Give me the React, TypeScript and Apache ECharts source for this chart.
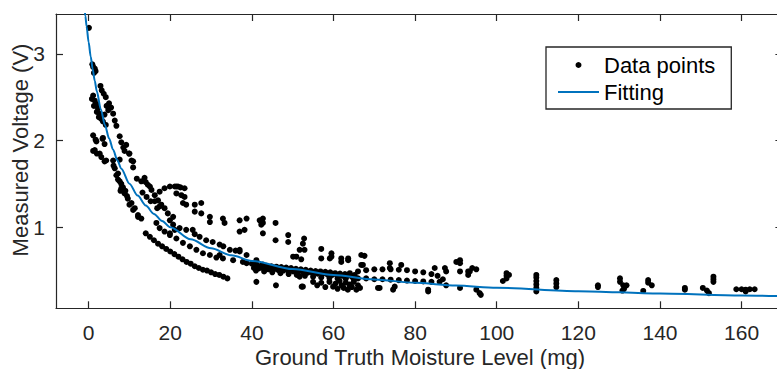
import React, { useEffect, useRef } from "react";
import * as echarts from "echarts";

// ---- Tick labels ----
const xTicks = [0, 20, 40, 60, 80, 100, 120, 140, 160];
const yTicks = [1, 2, 3];

// ---- Fitting curve ----
const fitX = [-1, -0.8, -0.5, 0, 0.5, 1, 1.5, 2, 3, 4, 5, 6, 7, 8, 10, 12, 14, 16, 18, 20, 25, 30, 35, 40, 50, 60, 70, 80, 90, 100, 120, 140, 160, 170];
const fitY = [3.522, 3.437, 3.316, 3.133, 2.969, 2.822, 2.689, 2.568, 2.357, 2.178, 2.026, 1.893, 1.777, 1.675, 1.503, 1.365, 1.25, 1.154, 1.072, 1.001, 0.861, 0.757, 0.676, 0.612, 0.517, 0.449, 0.398, 0.359, 0.328, 0.302, 0.263, 0.235, 0.213, 0.204];

// ---- Data points ----
const topCluster = [[0.07, 3.3], [0.9, 2.88], [1.1, 2.85], [1.5, 2.83], [1.7, 2.8], [1.3, 2.78]];
const upperStart = [[2.9, 2.63], [3.2, 2.58], [1.1, 2.52], [1.5, 2.46], [1.9, 2.42], [3.7, 2.54], [4.2, 2.5], [5.0, 2.43], [2.3, 2.37], [2.7, 2.31], [3.1, 2.25], [6.0, 2.31], [6.4, 2.23], [6.8, 2.17], [0.8, 2.48], [1.3, 2.4], [2.0, 2.33], [2.5, 2.27], [3.5, 2.22], [4.4, 2.4], [4.8, 2.35], [5.5, 2.38], [3.9, 2.3], [4.2, 2.18]];
const lowerStart = [[1.1, 2.06], [1.7, 2.01], [1.9, 1.99], [3.4, 2.02], [3.9, 1.96], [3.5, 2.03], [7.6, 2.05], [8.0, 1.98], [1.1, 1.88], [1.5, 1.89], [2.0, 1.85], [2.7, 1.85], [3.1, 1.81], [3.9, 1.76], [4.3, 1.77], [6.0, 1.77], [6.1, 1.71], [6.4, 1.68], [7.6, 1.78], [9.9, 1.85], [10.0, 1.85], [10.5, 1.77], [10.9, 1.76], [10.9, 1.69], [8.5, 1.92], [9.2, 1.95], [8.8, 1.88]];
const midBand = [[6.8, 1.6], [7.2, 1.55], [7.6, 1.53], [8.0, 1.5], [8.0, 1.45], [8.4, 1.46], [8.8, 1.39], [9.6, 1.33], [10.5, 1.28], [11.3, 1.22], [12.1, 1.14], [12.9, 1.1], [11.8, 1.56], [10.0, 1.26], [10.9, 1.2], [12.1, 1.12], [9.0, 1.42], [9.4, 1.36], [7.2, 1.62], [7.8, 1.42]];
const secondBand = [[12.9, 1.53], [13.7, 1.57], [14.5, 1.49], [15.4, 1.43], [16.2, 1.37], [17.0, 1.31], [17.8, 1.26], [18.6, 1.22], [19.4, 1.16], [20.7, 1.12], [18.6, 1.45], [19.9, 1.47], [21.5, 1.47], [17.4, 1.41], [16.2, 1.3], [17.4, 1.24], [14.0, 1.52], [15.0, 1.47], [13.2, 1.4], [14.2, 1.35], [15.2, 1.3], [16.8, 1.22]];
const upperScatter = [[21.1, 1.47], [21.9, 1.47], [22.5, 1.46], [23.5, 1.45], [21.5, 1.39], [22.7, 1.37], [23.5, 1.35], [23.1, 1.28], [23.9, 1.26], [26.0, 1.26], [27.6, 1.28], [26.0, 1.18], [27.6, 1.16], [29.7, 1.12], [29.7, 1.06], [32.9, 1.1], [33.3, 1.05], [37.0, 1.08], [38.7, 1.1], [37.0, 0.95], [38.2, 0.97], [41.9, 1.08], [42.3, 1.03], [42.7, 1.1], [42.7, 1.05], [45.8, 1.05], [42.7, 0.93], [45.8, 0.85], [48.9, 0.91], [48.9, 0.83], [52.8, 0.87], [52.5, 0.81], [50.1, 0.66], [50.9, 0.66], [51.7, 0.74], [52.9, 0.74], [52.1, 0.63], [57.0, 0.75], [57.0, 0.64], [59.1, 0.64], [59.5, 0.7], [59.5, 0.66], [61.9, 0.6], [61.9, 0.64], [63.6, 0.62], [63.6, 0.64], [66.8, 0.68], [67.6, 0.67], [66.8, 0.565], [67.2, 0.565], [73.8, 0.585], [73.8, 0.53], [76.6, 0.565], [84.8, 0.53], [87.3, 0.53], [87.6, 0.49], [90.1, 0.6], [91.0, 0.62], [91.0, 0.585], [91.0, 0.49], [93.0, 0.49], [93.0, 0.45], [95.0, 0.515], [93.4, 0.49], [94.0, 0.53]];
const nearFitBand = [[16.6, 1.05], [17.4, 0.99], [18.6, 0.95], [19.9, 0.93], [21.1, 0.97], [19.9, 1.08], [20.7, 1.03], [22.3, 0.99], [23.9, 0.97], [25.5, 0.97], [26.0, 0.92], [27.2, 0.89], [28.8, 0.85], [30.4, 0.83], [32.1, 0.8], [33.0, 0.78], [34.6, 0.74], [36.0, 0.73], [37.0, 0.72], [38.7, 0.68], [41.1, 0.62], [42.7, 0.57], [32.1, 0.68], [37.0, 0.74], [38.7, 0.585]];
const belowFitBand = [[19.9, 0.91], [21.5, 0.87], [23.1, 0.82], [24.8, 0.78], [26.4, 0.74], [28.0, 0.7], [29.7, 0.68], [31.3, 0.65], [32.9, 0.64], [35.4, 0.62], [37.8, 0.6], [40.3, 0.58]];
const lowestBand = [[14, 0.93], [15, 0.89], [16, 0.85], [17, 0.81], [18, 0.78], [19, 0.75], [20, 0.72], [21, 0.69], [22, 0.66], [23, 0.63], [24, 0.6], [25, 0.58], [26, 0.55], [27, 0.53], [28, 0.51], [29, 0.5], [30, 0.48], [31, 0.46], [32, 0.45], [33, 0.43], [34, 0.41]];
const denseBand = [[40, 0.58], [41.2, 0.57], [42.4, 0.56], [43.6, 0.555], [44.8, 0.55], [46, 0.545], [47.2, 0.54], [48.4, 0.535], [49.6, 0.53], [50.8, 0.52], [52, 0.515], [53.2, 0.51], [54.4, 0.5], [55.6, 0.495], [56.8, 0.49], [58, 0.485], [59.2, 0.48], [60.4, 0.47], [61.6, 0.465], [62.8, 0.46], [64, 0.455], [65.2, 0.45],
  [40.5, 0.53], [41.7, 0.525], [42.9, 0.52], [44.1, 0.515], [45.3, 0.51], [46.5, 0.505], [47.7, 0.5], [48.9, 0.495], [50.1, 0.49], [51.3, 0.485], [52.5, 0.48], [53.7, 0.475], [54.9, 0.47], [56.1, 0.465], [57.3, 0.46], [58.5, 0.455], [59.7, 0.45], [60.9, 0.445], [62.1, 0.44], [63.3, 0.435], [64.5, 0.43],
  [41, 0.5], [43, 0.49], [45, 0.48], [47, 0.47], [49, 0.46], [51, 0.45], [53, 0.44], [55, 0.43], [57, 0.42], [59, 0.415], [61, 0.41], [63, 0.405], [65, 0.4]];
const lowBlock = [[55, 0.37], [56, 0.33], [57, 0.36], [58, 0.31], [59, 0.37], [59.9, 0.315], [60.5, 0.35], [61, 0.29], [61.5, 0.38], [62, 0.33], [62.5, 0.3], [63, 0.36], [63.5, 0.28], [64, 0.34], [64.5, 0.31], [65, 0.37], [65.6, 0.28], [66, 0.33], [66.5, 0.3], [41.1, 0.37], [45.9, 0.33], [51.7, 0.43], [52.2, 0.315], [52.5, 0.315]];
const loopUpper = [[64, 0.47], [66, 0.49], [68, 0.505], [70, 0.515], [72, 0.515], [74, 0.515], [76, 0.51], [78, 0.505], [80, 0.49], [82, 0.48], [84, 0.46], [85.5, 0.44], [86.8, 0.4]];
const loopLower = [[66, 0.41], [68, 0.41], [70, 0.4], [72, 0.4], [74, 0.395], [76, 0.39], [78, 0.385], [80, 0.38], [82, 0.375], [84, 0.37], [86, 0.37]];
const belowLoop = [[64, 0.315], [71.3, 0.3], [74.6, 0.28], [75, 0.315], [70.9, 0.3], [83.2, 0.26], [83.2, 0.28], [87.6, 0.33], [91, 0.3], [95, 0.28], [95.8, 0.24], [96.1, 0.22]];
const tailPoints = [[102.4, 0.47], [102.4, 0.44], [102.4, 0.41], [103, 0.45], [101.5, 0.38], [109.7, 0.45], [109.7, 0.42], [109.7, 0.38], [109.7, 0.34], [109.7, 0.3], [109.7, 0.26], [114.6, 0.39], [114.6, 0.35], [114.6, 0.31], [124.8, 0.33], [124.8, 0.31], [130.2, 0.41], [130.2, 0.37], [131, 0.33], [131.8, 0.33], [131.2, 0.29], [130.8, 0.27], [135.9, 0.265], [137.1, 0.39], [137.1, 0.36], [138, 0.33], [146.1, 0.3], [146.1, 0.28], [150.5, 0.3], [151.5, 0.27], [152, 0.24], [153.1, 0.43], [153.1, 0.4], [153.1, 0.37], [158.7, 0.285], [160, 0.285], [161, 0.28], [162, 0.285], [163.2, 0.285], [161, 0.26]];

const INK = "#262626";
const BLUE = "#0072BD";
const FONT = "'Liberation Sans', Arial, Helvetica, sans-serif";
// legend icon for the fit: a thin bar inside a 41x6 box
const LINE_ICON = "path://M0,0L0.01,0L0.01,0.01L0,0.01Z M0,2.1L41,2.1L41,3.9L0,3.9Z M40.99,5.99L41,5.99L41,6L40.99,6Z";

export default function App() {
  const ref = useRef<HTMLDivElement>(null);
  useEffect(() => {
    if (!ref.current) return;
    const chart = echarts.init(ref.current, null, { renderer: "svg" });
    const scatterData = [
      ...topCluster, ...upperStart, ...lowerStart, ...midBand, ...secondBand,
      ...upperScatter, ...nearFitBand, ...belowFitBand, ...lowestBand,
      ...denseBand, ...lowBlock, ...loopUpper, ...loopLower, ...belowLoop, ...tailPoints,
    ];
    const fitData = fitX.map((x, i) => [x, fitY[i]]);
    const axisCommon = {
      axisLine: { show: true, onZero: false, lineStyle: { color: INK, width: 1.2 } },
      splitLine: { show: false },
    };
    chart.setOption({
      animation: false,
      textStyle: { fontFamily: FONT },
      grid: { left: 56, top: 14, width: 726.4, height: 294.3, containLabel: false },
      xAxis: [
        {
          type: "value", min: -8, max: 170, position: "bottom", ...axisCommon,
          axisTick: { show: true, inside: true, length: 7, customValues: xTicks, lineStyle: { color: INK, width: 1.2 } },
          axisLabel: { show: true, customValues: xTicks, margin: 14, fontSize: 21, color: INK, fontFamily: FONT },
        },
        {
          type: "value", min: -8, max: 170, position: "top", ...axisCommon,
          axisTick: { show: true, inside: true, length: 7, customValues: xTicks, lineStyle: { color: INK, width: 1.2 } },
          axisLabel: { show: false },
        },
      ],
      yAxis: [
        {
          type: "value", min: 0.065, max: 3.46, position: "left", ...axisCommon,
          axisTick: { show: true, inside: true, length: 7, customValues: yTicks, lineStyle: { color: INK, width: 1.2 } },
          axisLabel: { show: true, customValues: yTicks, margin: 11, fontSize: 21, color: INK, fontFamily: FONT },
        },
        {
          type: "value", min: 0.065, max: 3.46, position: "right", ...axisCommon,
          axisTick: { show: true, inside: true, length: 7, customValues: yTicks, lineStyle: { color: INK, width: 1.2 } },
          axisLabel: { show: false },
        },
      ],
      legend: {
        orient: "vertical",
        left: 546,
        top: 47,
        itemWidth: 41,
        itemHeight: 6,
        itemGap: 5,
        padding: [7, 16, 6, 12],
        borderColor: INK,
        borderWidth: 1.3,
        backgroundColor: "#fff",
        textStyle: { fontSize: 22, color: "#000", fontFamily: FONT, lineHeight: 22 },
        data: [
          { name: "Data points", icon: "circle", itemStyle: { color: "#000", opacity: 1 } },
          { name: "Fitting", icon: LINE_ICON, itemStyle: { color: BLUE, opacity: 1 } },
        ],
      },
      series: [
        {
          name: "Data points",
          type: "scatter",
          data: scatterData,
          symbol: "circle",
          symbolSize: 6,
          itemStyle: { color: "#000", opacity: 1 },
          xAxisIndex: 0,
          yAxisIndex: 0,
        },
        {
          name: "Fitting",
          type: "line",
          data: fitData,
          showSymbol: false,
          symbol: "none",
          smooth: 0.3,
          smoothMonotone: "x",
          clip: true,
          lineStyle: { color: BLUE, width: 2 },
          itemStyle: { color: BLUE },
          xAxisIndex: 0,
          yAxisIndex: 0,
          z: 3,
        },
      ],
      graphic: [
        {
          type: "text",
          x: 20,
          y: 150,
          rotation: Math.PI / 2,
          style: { text: "Measured Voltage (V)", fontSize: 22, fill: INK, align: "center", verticalAlign: "middle", fontFamily: FONT },
        },
        {
          type: "text",
          x: 420,
          y: 357,
          style: { text: "Ground Truth Moisture Level (mg)", fontSize: 22, fill: INK, align: "center", verticalAlign: "middle", fontFamily: FONT },
        },
      ],
    });
    return () => chart.dispose();
  }, []);
  return (
    <div style={{ position: "absolute", left: 0, top: 0, width: 777, height: 369, overflow: "hidden", background: "#fff" }}>
      <div ref={ref} style={{ width: 800, height: 369 }} />
    </div>
  );
}
